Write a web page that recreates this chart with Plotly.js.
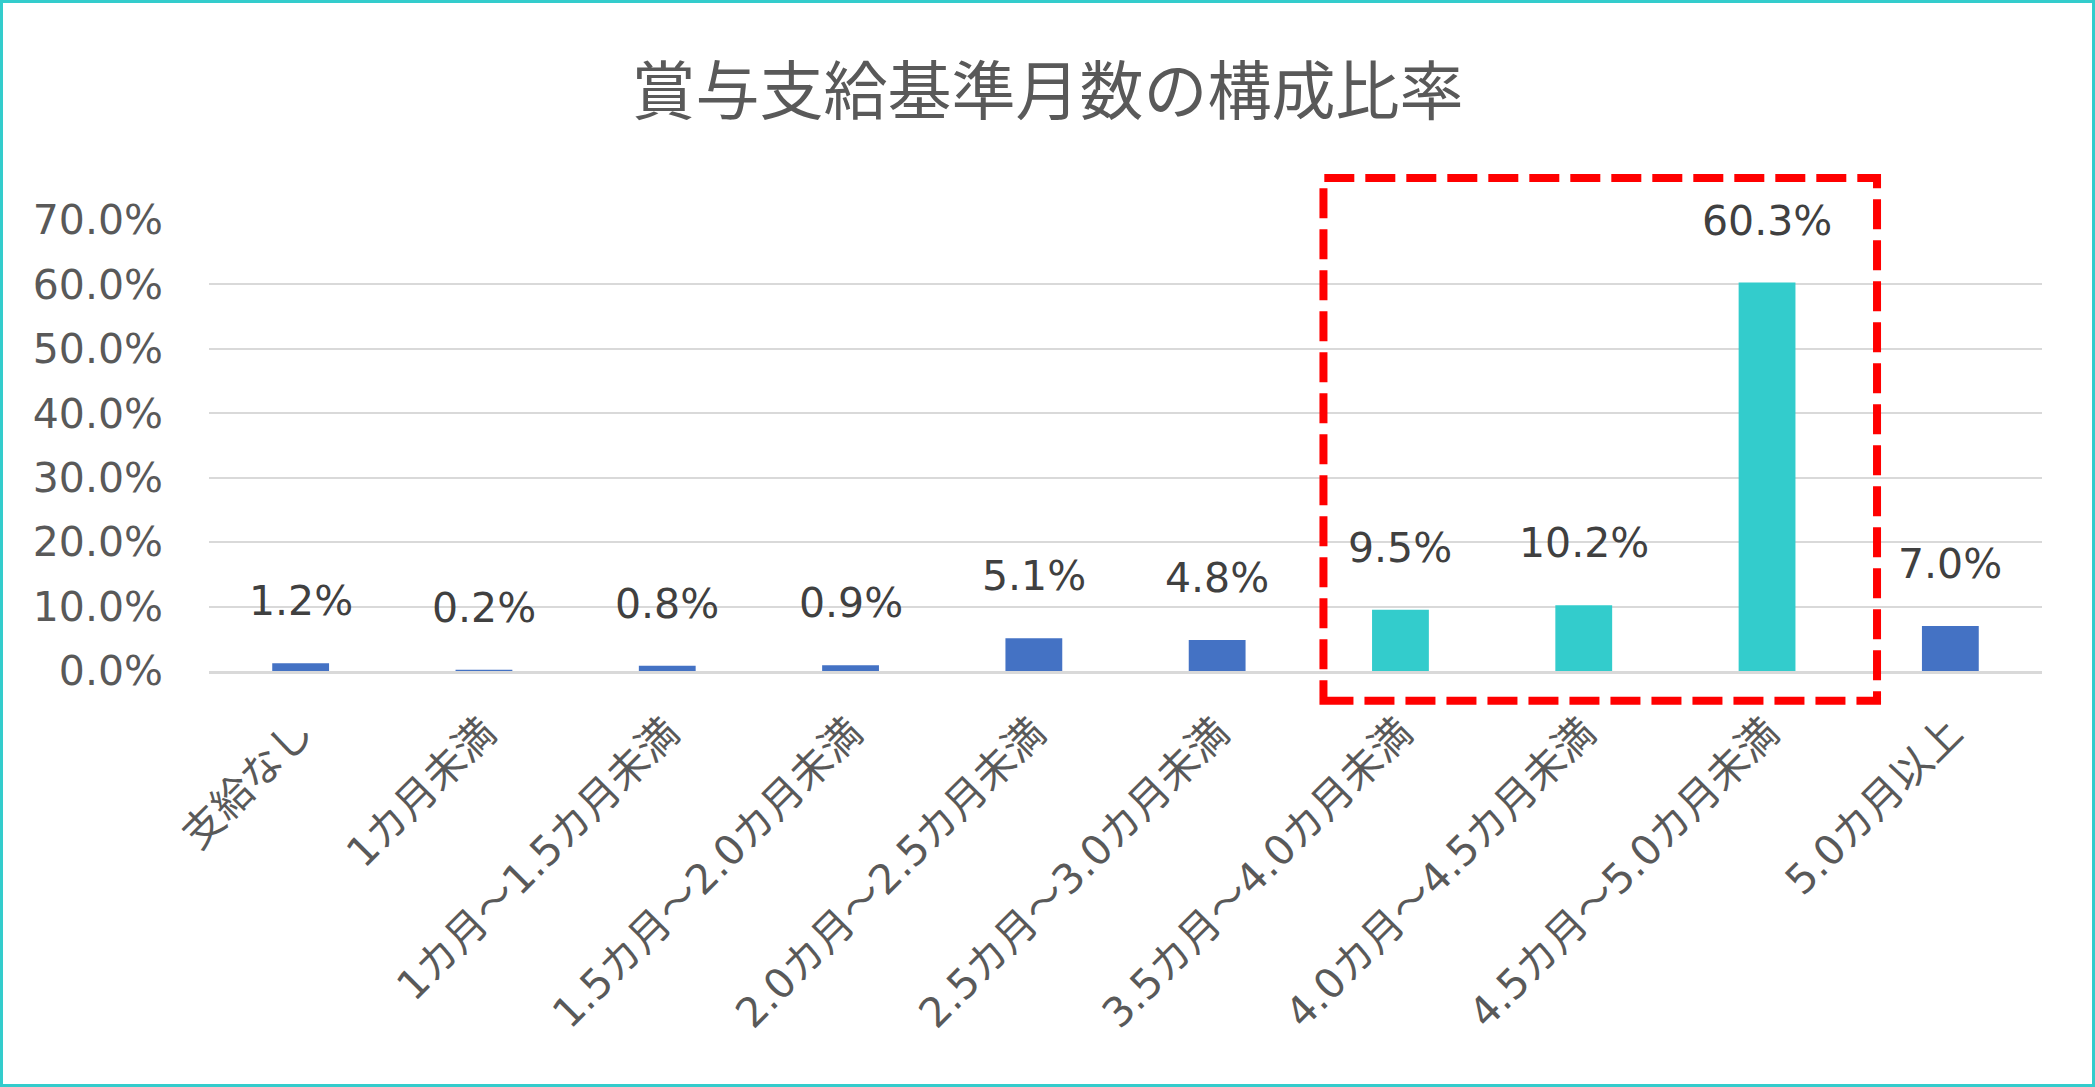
<!DOCTYPE html>
<html>
<head>
<meta charset="utf-8">
<script src="https://cdn.plot.ly/plotly-3.0.1.min.js"></script>
<style>
  html, body { margin: 0; padding: 0; background: #fff; }
  #wrap { position: relative; width: 2095px; height: 1087px; }
  #chart { position: absolute; left: 0; top: 0; width: 2095px; height: 1087px; }
  #frame { position: absolute; left: 0; top: 0; width: 2095px; height: 1087px; box-sizing: border-box; border: 3px solid #33CCCC; pointer-events: none; }
</style>
</head>
<body>
<div id="wrap"><div id="chart"></div><div id="frame"></div></div>
<script>
const categories = ["支給なし", "1カ月未満", "1カ月～1.5カ月未満", "1.5カ月～2.0カ月未満", "2.0カ月～2.5カ月未満",
  "2.5カ月～3.0カ月未満", "3.5カ月～4.0カ月未満", "4.0カ月～4.5カ月未満", "4.5カ月～5.0カ月未満", "5.0カ月以上"];
const values = [1.2, 0.2, 0.8, 0.9, 5.1, 4.8, 9.5, 10.2, 60.3, 7.0];
const highlighted = ["3.5カ月～4.0カ月未満", "4.0カ月～4.5カ月未満", "4.5カ月～5.0カ月未満"];
const yTicks = [0, 10, 20, 30, 40, 50, 60, 70];
const chartTitle = "賞与支給基準月数の構成比率";

const BLUE = "#4472C4", TEAL = "#33CCCC";
const latin = "DejaVu Sans, Noto Sans CJK JP, sans-serif";
const cjk = "Noto Sans CJK JP, DejaVu Sans, sans-serif";

const colors = categories.map(c => highlighted.includes(c) ? TEAL : BLUE);

const trace = {
  type: "bar",
  x: categories,
  y: values,
  marker: { color: colors, line: { width: 0 } },
  hoverinfo: "x+y",
  showlegend: false
};

const annotations = categories.map((c, i) => ({
  x: c, y: values[i], xref: "x", yref: "y",
  text: values[i].toFixed(1) + "%",
  showarrow: false, yanchor: "middle", xanchor: "center", yshift: 62,
  font: { family: latin, size: 41, color: "#404040" }
}));

const hiIdx = highlighted.map(h => categories.indexOf(h));
const box = {
  type: "rect", xref: "x", yref: "paper",
  x0: Math.min(...hiIdx) - 0.42, x1: Math.max(...hiIdx) + 0.6,
  y0: -0.066, y1: 1.093,
  line: { color: "#FF0000", width: 8, dash: "30px,11px" },
  fillcolor: "rgba(0,0,0,0)"
};

const layout = {
  width: 2095, height: 1087,
  paper_bgcolor: "#ffffff", plot_bgcolor: "#ffffff",
  margin: { l: 209, r: 53, t: 220, b: 416 },
  title: {
    text: chartTitle, x: 0.5, xanchor: "center", y: 1 - 92 / 1087, yanchor: "middle",
    font: { family: cjk, size: 64, color: "#595959" }
  },
  bargap: 0.69,
  xaxis: {
    type: "category",
    tickangle: -45,
    tickfont: { family: latin, size: 41, color: "#595959" },
    ticks: "", showgrid: false, zeroline: false,
    showline: true, linecolor: "#D9D9D9", linewidth: 3,
    ticklabelstandoff: 18,
    automargin: false
  },
  yaxis: {
    range: [0, 70],
    tickvals: yTicks,
    ticktext: yTicks.map(v => v.toFixed(1) + "%"),
    tickfont: { family: latin, size: 41, color: "#595959" },
    showgrid: true, gridcolor: "#D9D9D9", gridwidth: 2,
    zeroline: false, showline: false, ticks: "",
    ticklabelstandoff: 45,
    automargin: false
  },
  annotations: annotations,
  shapes: [box]
};

Plotly.newPlot("chart", [trace], layout, { displayModeBar: false, staticPlot: true });
</script>
</body>
</html>
